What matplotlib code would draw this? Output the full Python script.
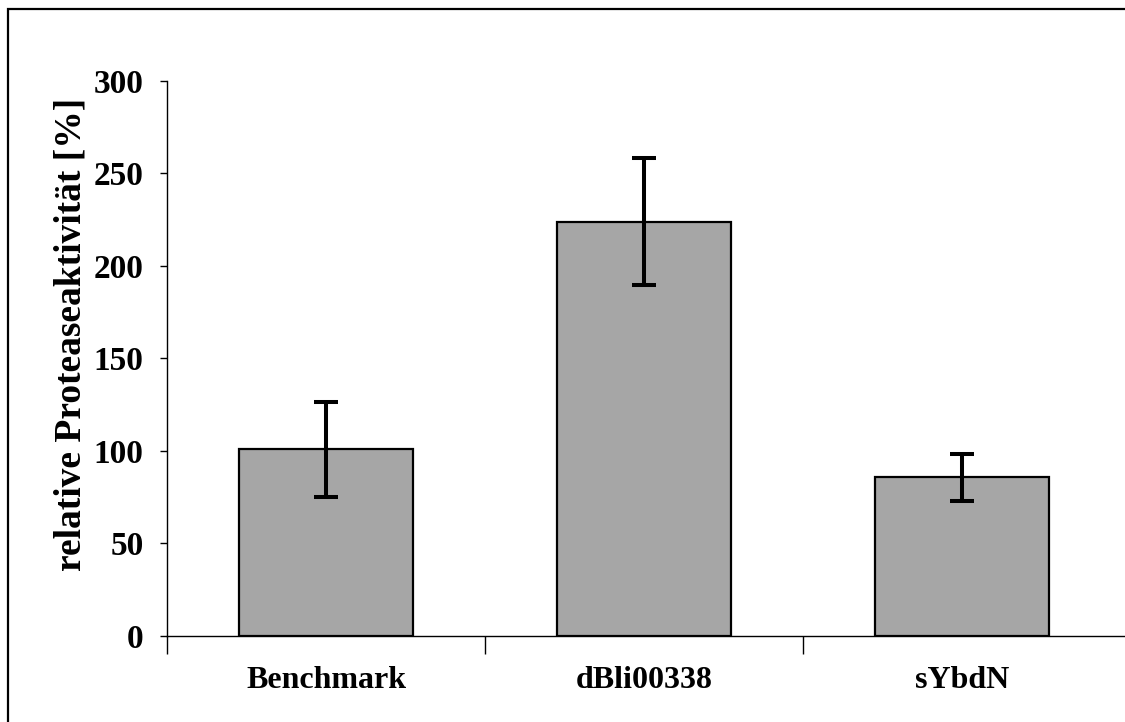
import numpy as np
import matplotlib
matplotlib.use("Agg")
import matplotlib.pyplot as plt
from matplotlib.patches import Rectangle

# data
categories = ["Benchmark", "dBli00338", "sYbdN"]
activity = [100.8, 223.8, 85.5]
errors = [25.7, 34.4, 12.7]
y_ticks = [0, 50, 100, 150, 200, 250, 300]

plt.rcParams['font.family'] = ['Liberation Serif', 'DejaVu Serif']
plt.rcParams['font.weight'] = 'bold'

fig = plt.figure(figsize=(11.25, 7.22), dpi=100)
ax = fig.add_axes([167 / 1125, 0.1198, 1 - 167 / 1125, 0.7684])

x = np.arange(len(categories))
ax.bar(x, activity, width=0.545, color="#a6a6a6", edgecolor="black", linewidth=1.6, zorder=2)
ax.errorbar(x, activity, yerr=errors, fmt="none", ecolor="black", elinewidth=2.9,
            capsize=8.3, capthick=2.9, zorder=3)

ax.set_xlim(-0.5, 2.512)
ax.set_ylim(0, 300)

for side in ["top", "right"]:
    ax.spines[side].set_visible(False)
ax.spines["left"].set_linewidth(1.0)
ax.spines["bottom"].set_linewidth(1.0)

ax.set_yticks(y_ticks)
ax.set_yticklabels([str(v) for v in y_ticks], fontsize=24, fontweight="bold")
ax.tick_params(axis="y", direction="out", length=5, width=1, pad=12)

# category labels, tick marks between categories
ax.set_xticks(x)
ax.set_xticklabels(categories, fontsize=23, fontweight="bold")
ax.tick_params(axis="x", which="major", length=0, pad=22)
ax.set_xticks(np.arange(len(categories)) - 0.5, minor=True)
ax.tick_params(axis="x", which="minor", direction="out", length=13, width=1)

fig.text(71 / 1125, 1 - 334 / 722, "relative Proteaseaktivität [%]", rotation=90,
         ha="center", va="center", fontsize=27, fontweight="bold")

# frame around the picture (cut at right and bottom)
fig.patches.append(Rectangle((8 / 1125, -0.1), 1.2, 1.1 - 9 / 722, transform=fig.transFigure,
                             fill=False, edgecolor="black", linewidth=1.6, clip_on=False))

fig.savefig("out.png", dpi=100)
